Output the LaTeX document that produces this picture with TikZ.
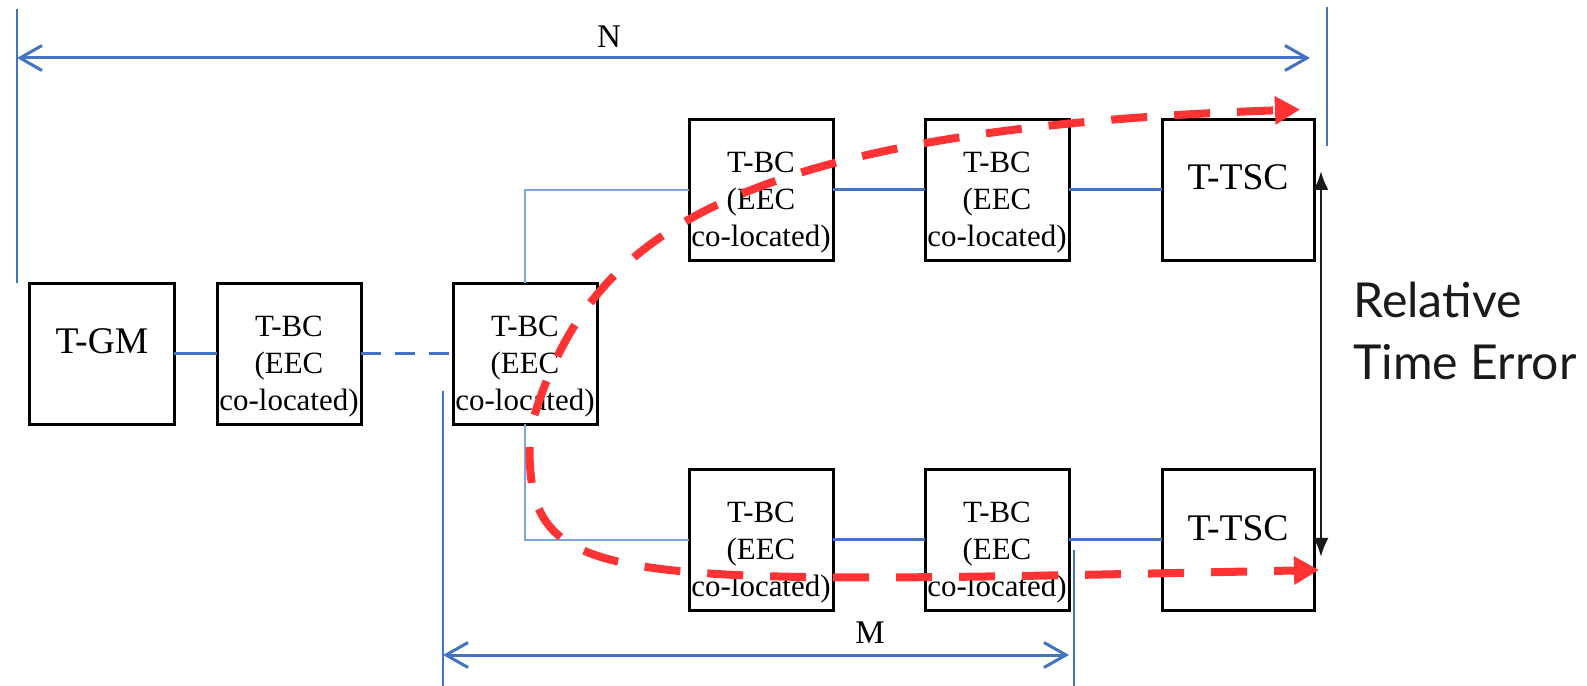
\documentclass[tikz,border=0pt]{standalone}
\usepackage{fontspec}
\setmainfont{Liberation Serif}
\newfontfamily\rtefont{Lato}
\usepackage{tikz}
\usetikzlibrary{arrows.meta,positioning}
\definecolor{LinkBlue}{HTML}{4472C4}
\definecolor{BranchBlue}{HTML}{7DA7DB}
\definecolor{PathRed}{HTML}{FF3333}
\definecolor{ErrBlack}{HTML}{1A1A1A}
\newcommand{\eectext}{\rule{0pt}{0.91cm}T-BC\\(EEC\\co-located)}

\begin{document}
\begin{tikzpicture}[node distance=0.46cm and 1.84cm,>=Latex]
\tikzstyle{clk}=[rectangle,draw=black,line width=0.06cm,outer sep=0pt,inner sep=0pt,
                 minimum width=2.88cm,minimum height=2.82cm,align=center,
                 font=\fontsize{17.6}{21.3}\selectfont]
\tikzstyle{termbox}=[rectangle,draw=black,line width=0.06cm,outer sep=0pt,inner sep=0pt,
                     minimum width=2.88cm,minimum height=2.82cm,
                     font=\fontsize{21.4}{25}\selectfont,text height=15pt,text depth=15pt]
\tikzstyle{link}=[LinkBlue,line width=0.06cm]
\tikzstyle{branch}=[BranchBlue,line width=0.03cm]
\tikzstyle{dimline}=[LinkBlue,line width=0.03cm]
\tikzstyle{dimarrow}=[LinkBlue,line width=0.06cm,
                      {Straight Barb[length=0.44cm,width=0.5cm]}-{Straight Barb[length=0.44cm,width=0.5cm]}]
\tikzstyle{rtepath}=[PathRed,line width=0.16cm,dash pattern=on 0.72cm off 0.54cm,
                     -{Triangle[length=0.5cm,width=0.54cm]}]
\tikzstyle{dimlabel}=[font=\fontsize{18.8}{22}\selectfont,inner sep=0pt,anchor=base]
\useasboundingbox (0,0) rectangle (31.74,-13.72);
% chain from the grandmaster
\node[termbox] (gm) at (2.04,-7.08) {T-GM};
\node[clk,right=0.86cm of gm] (bc1) {\eectext};
\node[clk,right=of bc1] (bc2) {\eectext};
% upper branch
\node[clk,above right=of bc2] (tbc1) {\eectext};
\node[clk,right=of tbc1] (tbc2) {\eectext};
\node[termbox,minimum width=3.04cm,right=1.86cm of tbc2] (tsc1) {T-TSC};
% lower branch
\node[clk,below right=0.9cm and 1.84cm of bc2] (bbc1) {\eectext};
\node[clk,right=of bbc1] (bbc2) {\eectext};
\node[termbox,minimum width=3.04cm,right=1.86cm of bbc2] (tsc2) {T-TSC};
\draw[link] (gm) -- (bc1);
\draw[link,dash pattern=on 0.4cm off 0.28cm] (bc1) -- (bc2);
\draw[branch] (bc2.north) |- (tbc1.west);
\draw[branch] (bc2.south) |- (bbc1.west);
\draw[link] (tbc1) -- (tbc2);
\draw[link] (tbc2) -- (tsc1);
\draw[link] (bbc1) -- (bbc2);
\draw[link] (bbc2) -- (tsc2);
% N and M spans
\coordinate (nlefttop) at (0.34,-0.18);
\coordinate (nleftbot) at (0.34,-5.66);
\coordinate (nrighttop) at (26.54,-0.14);
\coordinate (nrightbot) at (26.54,-2.92);
\coordinate (nstart) at (0.34,-1.16);
\coordinate (nend) at (26.2,-1.16);
\draw[dimline] (nlefttop) -- (nleftbot);
\draw[dimline] (nrighttop) -- (nrightbot);
\draw[dimarrow] (nstart) -- (nend);
\node[dimlabel] (nlabel) at (12.18,-0.96) {N};
\coordinate (mlefttop) at (8.86,-7.82);
\coordinate (mleftbot) at (8.86,-13.72);
\coordinate (mrighttop) at (21.48,-11.0);
\coordinate (mrightbot) at (21.48,-13.72);
\coordinate (mstart) at (8.86,-13.1);
\coordinate (mend) at (21.38,-13.1);
\draw[dimline] (mlefttop) -- (mleftbot);
\draw[dimline] (mrighttop) -- (mrightbot);
\draw[dimarrow] (mstart) -- (mend);
\node[dimlabel] (mlabel) at (17.4,-12.86) {M};
% relative time error
\coordinate[above right=0.38cm and 0.14cm of tsc1.east] (rtetop);
\coordinate[below right=0.34cm and 0.14cm of tsc2.east] (rtebot);
\draw[ErrBlack,line width=0.05cm,
      {Latex[length=0.38cm,width=0.3cm]}-{Latex[length=0.38cm,width=0.3cm]}] (rtetop) -- (rtebot);
\node[font=\rtefont\fontsize{27.4}{35.7}\selectfont,align=left,inner sep=0pt,
      anchor=west,text=ErrBlack] (rte) at (27.06,-6.62) {Relative\\Time Error};
% timing paths
\coordinate[below right=1.22cm and 0.19cm of bc2.center] (topstart);
\coordinate[below right=1.86cm and 0.09cm of bc2.center] (botstart);
\coordinate[above left=0.2cm and 0.28cm of tsc1.north east] (topend);
\coordinate[below right=0.6cm and 0.1cm of tsc2.east] (botend);
\draw[rtepath] (topstart) .. controls +(72.6:3.66) and +(182:11.58) .. (topend);
\draw[rtepath] (botstart) .. controls +(270:2.86) and +(181.2:14.36) .. (botend);
\end{tikzpicture}
\end{document}
